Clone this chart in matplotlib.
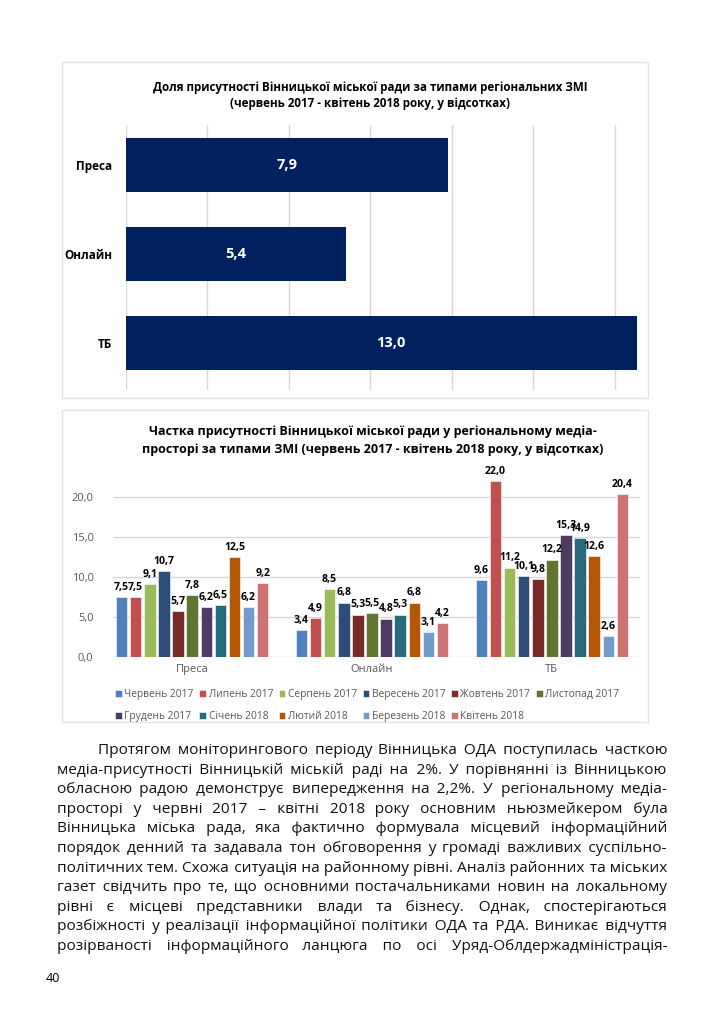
import matplotlib
matplotlib.use('Agg')
import matplotlib.pyplot as plt
from matplotlib.patches import Rectangle
import numpy as np

W, H = 724, 1024

# chart 1: total share by media type
media_types = ['Преса', 'Онлайн', 'ТБ']
share_total = [7.9, 5.4, 13.0]

# chart 2: monthly share by media type
months = ['Червень 2017', 'Липень 2017', 'Серпень 2017', 'Вересень 2017',
          'Жовтень 2017', 'Листопад 2017', 'Грудень 2017', 'Січень 2018',
          'Лютий 2018', 'Березень 2018', 'Квітень 2018']
press = [7.5, 7.5, 9.1, 10.7, 5.7, 7.8, 6.2, 6.5, 12.5, 6.2, 9.2]
online = [3.4, 4.9, 8.5, 6.8, 5.3, 5.5, 4.8, 5.3, 6.8, 3.1, 4.2]
tv = [9.6, 22.0, 11.2, 10.1, 9.8, 12.2, 15.3, 14.9, 12.6, 2.6, 20.4]
month_colors = ['#4F81BD', '#C0504D', '#9BBB59', '#2C4D75', '#772C2A', '#5F7530',
                '#4D3B62', '#276A7C', '#B65708', '#729ACA', '#CD7371']
y_ticks = [0, 5, 10, 15, 20]

title1 = ['Доля присутності Вінницької міської ради за типами регіональних ЗМІ',
          '(червень 2017 - квітень 2018 року, у відсотках)']
title2 = ['Частка присутності Вінницької міської ради у регіональному медіа-',
          'просторі за типами ЗМІ (червень 2017 - квітень 2018 року, у відсотках)']

paragraph_lines = [
    'Протягом моніторингового періоду Вінницька ОДА поступилась часткою',
    'медіа-присутності Вінницькій міській раді на 2%. У порівнянні із Вінницькою',
    'обласною радою демонструє випередження на 2,2%. У регіональному медіа-',
    'просторі у червні 2017 – квітні 2018 року основним ньюзмейкером була',
    'Вінницька міська рада, яка фактично формувала місцевий інформаційний',
    'порядок денний та задавала тон обговорення у громаді важливих суспільно-',
    'політичних тем. Схожа ситуація на районному рівні. Аналіз районних та міських',
    'газет свідчить про те, що основними постачальниками новин на локальному',
    'рівні є місцеві представники влади та бізнесу. Однак, спостерігаються',
    'розбіжності у реалізації інформаційної політики ОДА та РДА. Виникає відчуття',
    'розірваності інформаційного ланцюга по осі Уряд-Облдержадміністрація-',
]
page_number = '40'

plt.rcParams['font.family'] = ['Open Sans', 'DejaVu Sans']

fig = plt.figure(figsize=(W / 100, H / 100), dpi=100)


def px_rect(x0, y0, x1, y1):
    return [x0 / W, 1 - y1 / H, (x1 - x0) / W, (y1 - y0) / H]


def fx(x):
    return x / W


def fy(y):
    return 1 - y / H


def fmt(v):
    return f'{v:.1f}'.replace('.', ',')


# chart frames
for (x0, y0, x1, y1) in [(62, 62, 648, 398), (62, 410, 648, 722)]:
    fig.patches.append(Rectangle((fx(x0), fy(y1)), (x1 - x0) / W, (y1 - y0) / H,
                                 transform=fig.transFigure, fill=False,
                                 edgecolor='#E3E3E3', lw=1))

# ---- chart 1
fig.text(fx(370), fy(87), title1[0], ha='center', va='center', fontsize=8.4, fontweight='bold')
fig.text(fx(370), fy(103), title1[1], ha='center', va='center', fontsize=8.4, fontweight='bold')

ax1 = fig.add_axes(px_rect(126, 125, 637, 390))
ypos = np.arange(len(media_types))
ax1.barh(ypos, share_total, height=0.61, color='#002060')
for y, v in zip(ypos, share_total):
    ax1.text(v / 2, y, fmt(v), ha='center', va='center', color='white',
             fontsize=10.5, fontweight='bold')
ax1.set_xlim(0, 12.55)
ax1.set_ylim(2.53, -0.45)
ax1.set_xticks(np.arange(0, 13, 2))
ax1.xaxis.grid(True, color='#D9D9D9', lw=1)
ax1.set_axisbelow(True)
ax1.tick_params(axis='x', length=0, labelbottom=False)
ax1.set_yticks(ypos, media_types, fontweight='bold', fontsize=8.5)
ax1.tick_params(axis='y', length=0, pad=10)
for s in ax1.spines.values():
    s.set_visible(False)

# ---- chart 2
fig.text(fx(373), fy(432), title2[0], ha='center', va='center', fontsize=9, fontweight='bold')
fig.text(fx(373), fy(450), title2[1], ha='center', va='center', fontsize=9, fontweight='bold')

ax2 = fig.add_axes(px_rect(113, 478, 640, 657))
x = np.arange(len(media_types))
offsets = (np.arange(len(months)) - 5) * 0.0785
handles = []
for i, m in enumerate(months):
    vals = [press[i], online[i], tv[i]]
    bars = ax2.bar(x + offsets[i], vals, width=0.064, color=month_colors[i],
                   edgecolor='white', lw=0.4, label=m)
    ax2.bar_label(bars, labels=[fmt(v) for v in vals], padding=3,
                  fontsize=7.6, fontweight='bold', clip_on=False)
    handles.append(bars)
ax2.set_xlim(-0.44, 2.49)
ax2.set_ylim(0, 22.4)
ax2.set_yticks(y_ticks, [fmt(v) for v in y_ticks], color='#595959', fontsize=8)
ax2.set_xticks(x, media_types, color='#595959', fontsize=8)
ax2.tick_params(axis='both', length=0)
ax2.tick_params(axis='y', pad=14)
ax2.tick_params(axis='x', pad=5)
ax2.yaxis.grid(True, color='#D9D9D9', lw=1)
ax2.set_axisbelow(True)
for s in ax2.spines.values():
    s.set_visible(False)

order = [0, 6, 1, 7, 2, 8, 3, 9, 4, 10, 5]
fig.legend([handles[k] for k in order], [months[k] for k in order],
           loc='upper left', bbox_to_anchor=(fx(115), fy(689)), ncol=6,
           frameon=False, fontsize=7.4, labelcolor='#595959',
           handlelength=0.65, handleheight=0.65, handletextpad=0.25,
           columnspacing=0.55, labelspacing=1.05, borderaxespad=0, borderpad=0)

# ---- body text, justified by padding the gaps with normal and hair spaces
renderer = fig.canvas.get_renderer()
left, right, indent = 57, 667, 98
HAIR = '\u200a'


def text_width(s, size):
    t = fig.text(0, 0, s, fontsize=size)
    w = t.get_window_extent(renderer).width
    t.remove()
    return w


natural = max(text_width(ln, 11) for ln in paragraph_lines[1:])
body_size = 11 * (right - left) / natural * 0.99
space_w = text_width('a a', body_size) - text_width('aa', body_size)
hair_w = text_width('a' + HAIR * 10 + 'a', body_size) - text_width('aa', body_size)
hair_w /= 10

base0, dy = 754, 19.6
for k, line in enumerate(paragraph_lines):
    words = line.split()
    start = indent if k == 0 else left
    gaps = len(words) - 1
    extra = (right - start) - text_width(line, body_size)
    built = words[0]
    done = 0.0
    for g in range(gaps):
        target = extra * (g + 1) / gaps
        need = target - done
        n_sp = int(need // space_w) if need > 0 else 0
        n_h = int(round((need - n_sp * space_w) / hair_w)) if hair_w > 0 else 0
        n_h = max(n_h, 0)
        done += n_sp * space_w + n_h * hair_w
        built += ' ' * (1 + n_sp) + HAIR * n_h + words[g + 1]
    fig.text(fx(start), fy(base0 + k * dy), built, fontsize=body_size,
             va='baseline', ha='left', color='#111111')

fig.text(fx(46), fy(979), page_number, fontsize=9, va='center', ha='left')

fig.savefig('out.png', dpi=100)
